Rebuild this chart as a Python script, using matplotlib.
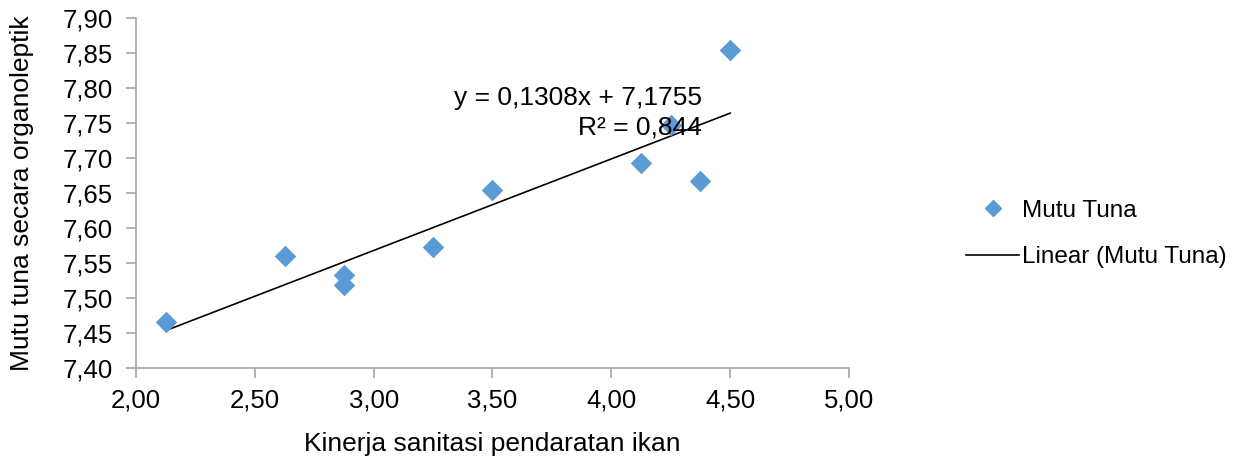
import matplotlib
matplotlib.use("Agg")
import matplotlib.pyplot as plt
from matplotlib.lines import Line2D
import numpy as np

plt.rcParams['font.family'] = ['Liberation Sans', 'DejaVu Sans']

x_vals = [2.125, 2.625, 2.875, 2.875, 3.25, 3.5, 4.125, 4.25, 4.375, 4.5]
y_vals = [7.466, 7.560, 7.533, 7.519, 7.573, 7.654, 7.693, 7.747, 7.667, 7.854]
slope = 0.1308
intercept = 7.1755
r2 = 0.844
x_ticks = [2.0, 2.5, 3.0, 3.5, 4.0, 4.5, 5.0]
y_ticks = [7.40, 7.45, 7.50, 7.55, 7.60, 7.65, 7.70, 7.75, 7.80, 7.85, 7.90]

fig = plt.figure(figsize=(12.36, 4.59), dpi=100)
ax = fig.add_axes([136/1236, 1-368/459, (849-136)/1236, (368-18)/459])

blue = '#5B9BD5'
ax.scatter(x_vals, y_vals, marker='D', s=120, color=blue, zorder=3, linewidths=0)
xl = np.array([min(x_vals), max(x_vals)])
ax.plot(xl, slope*xl + intercept, color='black', lw=1.2, zorder=2)

ax.set_xlim(2.0, 5.0)
ax.set_ylim(7.40, 7.90)
ax.set_xticks(x_ticks)
ax.set_yticks(y_ticks)
ax.set_xticklabels([f"{v:.2f}".replace('.', ',') for v in x_ticks], fontsize=18.5)
ax.set_yticklabels([f"{v:.2f}".replace('.', ',') for v in y_ticks], fontsize=18.5)
for s in ['top', 'right']:
    ax.spines[s].set_visible(False)
for s in ['left', 'bottom']:
    ax.spines[s].set_color('#A6A6A6')
    ax.spines[s].set_linewidth(1.2)
ax.tick_params(direction='out', length=7, color='#A6A6A6', width=1.2, pad=8)
ax.tick_params(axis='y', pad=10)

ax.set_xlabel('Kinerja sanitasi pendaratan ikan', fontsize=19, labelpad=14)
ax.set_ylabel('Mutu tuna secara organoleptik', fontsize=19, labelpad=20)

fig.text(702/1236, 1-98/459, 'y = 0,1308x + 7,1755', fontsize=19, ha='right', va='center')
fig.text(702/1236, 1-128/459, 'R² = 0,844', fontsize=19, ha='right', va='center')

handles = [Line2D([], [], marker='D', color=blue, linestyle='none', markersize=8),
           Line2D([], [], color='black', lw=1.2)]
fig.legend(handles, ['Mutu Tuna', 'Linear (Mutu Tuna)'], loc='center left',
           bbox_to_anchor=(966/1236, 1-234/459), frameon=False, fontsize=17.5,
           borderpad=0, borderaxespad=0,
           handlelength=2.2, handletextpad=0.12, labelspacing=1.0)

fig.savefig('out.png', dpi=100)
